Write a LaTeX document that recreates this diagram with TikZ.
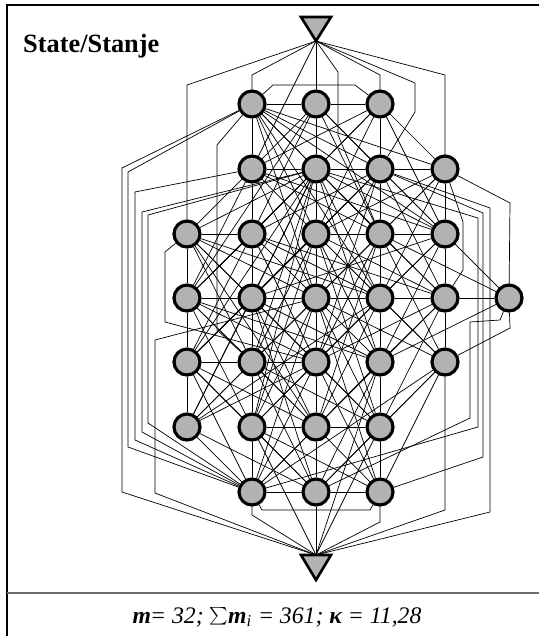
\documentclass[tikz,border=0pt]{standalone}
\usepackage{fontspec}
\setmainfont{Liberation Serif}
\usetikzlibrary{backgrounds}
\definecolor{stategray}{RGB}{178,178,178}
\definecolor{rulegray}{RGB}{110,110,110}
\tikzset{
  state/.style={circle, draw, line width=1.8pt, fill=stategray, minimum size=0.52cm, inner sep=0pt},
  port/.style={draw, line width=1.5pt, fill=stategray, line join=miter},
  link/.style={line width=1.25pt},
}
\begin{document}
\begin{tikzpicture}[x={(0.02cm,0)}, y={(0,-0.02cm)}]
  \useasboundingbox (0,0) rectangle (538,636);
  % frame and caption rule
  \draw[line width=1pt] (540,5) -- (7,5) -- (7,640);
  \draw[line width=1pt, rulegray] (7,593) -- (540,593);
  \node[anchor=base west, font=\bfseries\fontsize{15}{17}\selectfont] (title) at (17,52) {State/Stanje};
  \node[anchor=base, font=\itshape\fontsize{13.5}{16}\selectfont] (caption) at (277,623)
    {\textbf{m}\kern-0.5pt= 32; $\sum$\textbf{m}\textsubscript{i} = 361; \textbf{κ} = 11,28};

  % states
  \foreach \n/\x/\y in {b1/252/104, c1/316/104, d1/380/104,
      b2/252/169, c2/316/169, d2/380/169, e2/445/169,
      a3/187/234, b3/252/234, c3/316/234, d3/380/234, e3/445/234,
      a4/187/298, b4/252/298, c4/316/298, d4/380/298, e4/445/298, f4/509/298,
      a5/187/362, b5/252/362, c5/316/362, d5/380/362, e5/445/362,
      a6/187/427, b6/252/427, c6/316/427, d6/380/427,
      b7/252/492, c7/316/492, d7/380/492}
    \node[state] (\n) at (\x,\y) {};

  % entry and exit
  \coordinate (src) at (316,41);
  \coordinate (snk) at (316,555);
  \draw[port] (301,17) -- (331,17) -- (src) -- cycle;
  \draw[port] (301,555) -- (331,555) -- (316,580) -- cycle;

  \begin{scope}[on background layer, link]
    % grid neighbours
    \foreach \u/\v in {b1/c1, c1/d1, b2/c2, c2/d2, d2/e2, a3/b3, c3/d3, d3/e3,
        a4/b4, b4/c4, c4/d4, d4/e4, e4/f4, a5/b5, b5/c5, b6/c6, c6/d6, b7/c7, c7/d7,
        b1/b2, b2/b3, b3/b4, b4/b5, b5/b6, b6/b7, c1/c2, c2/c3, c3/c4, c4/c5, c5/c6, c6/c7,
        d1/d2, d2/d3, d3/d4, d4/d5, d5/d6, d6/d7, e2/e3, e3/e4, e4/e5, a3/a4, a4/a5, a5/a6,
        src/c1, src/b2, b6/snk, c7/snk, d6/snk, d5/snk}
      \draw (\u) -- (\v);
    % diagonal fans
    \foreach \s/\ts in {b1/{c2,d2,e2,c3,d3,c4,d4,e3}, c1/{b2,d2,b3,d3,e3,a4},
        d1/{c2,b3,e2,e3,c3,b2}, b2/{a3,c3,d3,a4,c4,e3},
        c2/{a3,b3,d3,e3,a4,b4,d4,e4,a5,b5,d5,b6,a6}, d2/{b3,c3,e3,c4,e4,b4,a5,c5},
        e2/{d3,c3,d4,c4}, a3/{b4,c4,b5,c5,d4,c6}, b3/{a4,c4,d4,a5,c5,d5,e4},
        c3/{b4,d4,a5,b5,d5,e5,b6,d6,e4}, d3/{c4,e4,b5,c5,e5,c6,f4}, e3/{d4,f4,c5,d5,b4},
        a4/{b3,b5,c5,b6,c6,d5}, b4/{a5,c5,d5,a6,c6,d6,c7}, c4/{b5,d5,e5,b6,d6,a6,b7,d7},
        d4/{c5,e5,b6,c6,a6}, e4/{d5,c5,d6,c6}, f4/{e3,d5}, a5/{b4,b6,c6,b7,c7},
        b5/{a6,c6,d6,c7}, c5/{b6,d6,b7,d7,a6}, d5/{c6,b7,c7}, e5/{d6,c7,b7,d7},
        a6/{b7,c7}, b6/{c7,d7,a5}, c6/{b7,d7}, d6/{c7}}
      \foreach \t in \ts
        \draw (\s) -- (\t);
    % routed links, top
    \draw (src) -- (187,85) -- (a3);
    \draw (src) -- (252,75) -- (b1);
    \draw (src) -- (338,72) -- (338,135) -- (d3);
    \draw (src) -- (380,75) -- (d1);
    \draw (src) -- (415,83) -- (415,112) -- (d2);
    \draw (src) -- (445,75) -- (e2);
    \draw (b1) -- (273,85) -- (355,85) -- (d1);
    % routed links, left
    \draw (b1) -- (122,168) -- (122,492) -- (snk);
    \draw (b1) -- (128,172) -- (128,447) -- (b7);
    \draw (b2) -- (135,192) -- (135,440) -- (b7);
    \draw (c2) -- (142,212) -- (142,432) -- (b7);
    \draw (c2) -- (148,215) -- (148,423) -- (b7);
    \draw (b1) -- (217,145) -- (217,330) -- (b5);
    \draw (a3) -- (165,252) -- (165,322) -- (c5);
    \draw (c4) -- (155,340) -- (155,493) -- (snk);
    % routed links, bottom
    \draw (b7) -- (252,515) -- (snk);
    \draw (b7) -- (262,510) -- (370,510) -- (d7);
    \draw (d7) -- (380,522) -- (snk);
    % routed links, right
    \draw (e2) -- (510,203) -- (f4);
    \draw (e2) -- (463,222) -- (463,270) -- (e4);
    \draw (f4) -- (510,328) -- (e5);
    \draw (d2) -- (490,208) -- (490,512) -- (snk);
    \draw (d2) -- (483,213) -- (483,457) -- (d7);
    \draw (c2) -- (478,218) -- (478,427) -- (b7);
    \draw (f4) -- (500,320) -- (470,322) -- (470,418) -- (c7);
    \draw (e5) -- (445,510) -- (snk);
  \end{scope}
\end{tikzpicture}
\end{document}
